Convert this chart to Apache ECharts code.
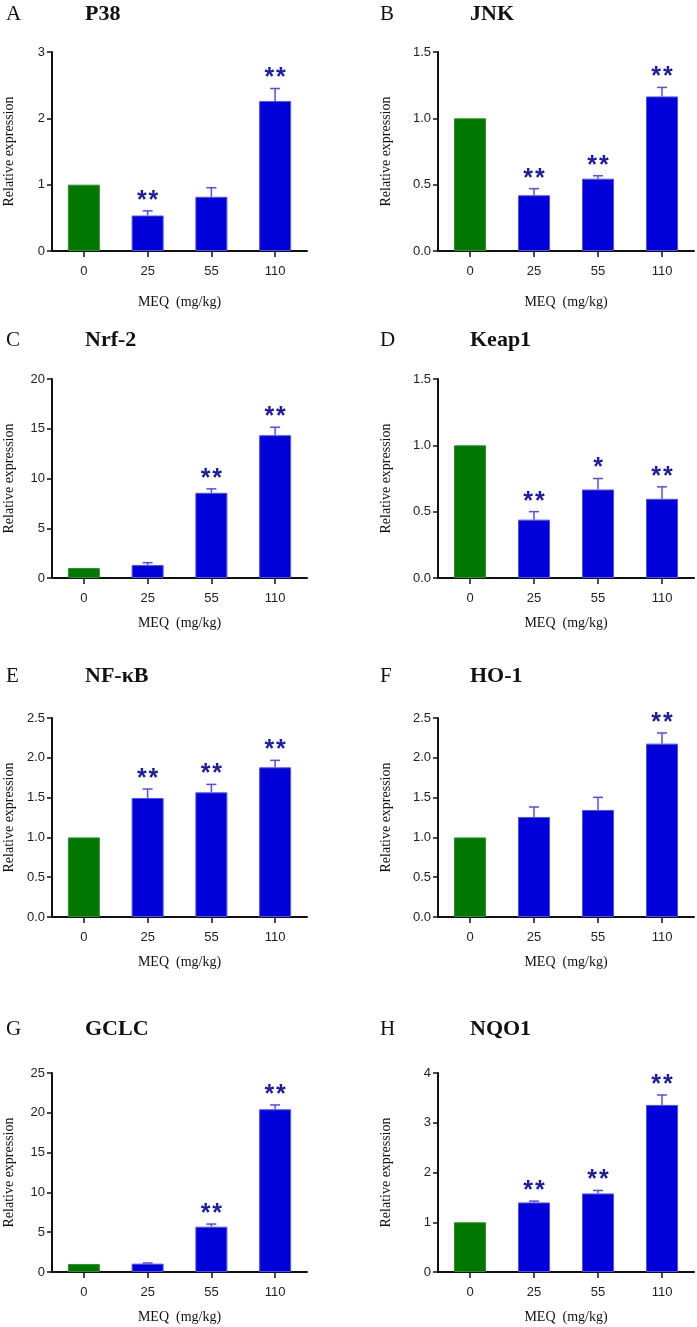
<!DOCTYPE html>
<html>
<head>
<meta charset="utf-8">
<script src="https://cdn.jsdelivr.net/npm/echarts@6/dist/echarts.min.js"></script>
<style>
html,body{margin:0;padding:0;background:#fff;}
#chart{width:697px;height:1327px;}
</style>
</head>
<body>
<div id="chart"></div>
<script>
// ---------- data ----------
const categories = ['0', '25', '55', '110'];
const panelLetters = ['A', 'B', 'C', 'D', 'E', 'F', 'G', 'H'];
const panelNames = ['P38', 'JNK', 'Nrf-2', 'Keap1', 'NF-κB', 'HO-1', 'GCLC', 'NQO1'];
const yMaxes = [3, 1.5, 20, 1.5, 2.5, 2.5, 25, 4];
const ySteps = [1, 0.5, 5, 0.5, 0.5, 0.5, 5, 1];
const yAxisTitle = 'Relative expression';
const xAxisTitle = 'MEQ  (mg/kg)';

const p38Mean = [1.0, 0.535, 0.817, 2.26];
const p38Err = [0, 0.07, 0.136, 0.19];
const p38Sig = ['', '**', '', '**'];

const jnkMean = [1.0, 0.42, 0.545, 1.165];
const jnkErr = [0, 0.05, 0.022, 0.068];
const jnkSig = ['', '**', '**', '**'];

const nrf2Mean = [1.0, 1.3, 8.56, 14.35];
const nrf2Err = [0, 0.24, 0.40, 0.80];
const nrf2Sig = ['', '', '**', '**'];

const keap1Mean = [1.0, 0.44, 0.667, 0.597];
const keap1Err = [0, 0.06, 0.083, 0.09];
const keap1Sig = ['', '**', '*', '**'];

const nfkbMean = [1.0, 1.495, 1.566, 1.88];
const nfkbErr = [0, 0.113, 0.10, 0.088];
const nfkbSig = ['', '**', '**', '**'];

const ho1Mean = [1.0, 1.256, 1.344, 2.178];
const ho1Err = [0, 0.126, 0.159, 0.134];
const ho1Sig = ['', '', '', '**'];

const gclcMean = [1.0, 1.05, 5.69, 20.44];
const gclcErr = [0, 0.08, 0.33, 0.55];
const gclcSig = ['', '', '**', '**'];

const nqo1Mean = [1.0, 1.398, 1.579, 3.358];
const nqo1Err = [0, 0.027, 0.06, 0.20];
const nqo1Sig = ['', '**', '**', '**'];

const means = [p38Mean, jnkMean, nrf2Mean, keap1Mean, nfkbMean, ho1Mean, gclcMean, nqo1Mean];
const errs = [p38Err, jnkErr, nrf2Err, keap1Err, nfkbErr, ho1Err, gclcErr, nqo1Err];
const sigs = [p38Sig, jnkSig, nrf2Sig, keap1Sig, nfkbSig, ho1Sig, gclcSig, nqo1Sig];

// ---------- layout ----------
const colLeft = [52, 438];
const colWidth = [255, 256];
const rowTop = [52, 379, 718, 1073];
const gridH = 199;
const titleY = [14, 340, 676.5, 1029.5];
const letterX = [6, 380];
const nameX = [85, 470];
const xNameGap = [44, 38, 38, 38];
const yNameGap = [36, 45];

const GREEN = '#007800';
const BLUE = '#0000d8';
const BLUE_EDGE = '#4f4fff';
const STAR = '#1c1ca6';
const SERIF = '"Liberation Serif", "Times New Roman", serif';
const SANS = '"Liberation Sans", Arial, sans-serif';

const chart = echarts.init(document.getElementById('chart'), null, {renderer: 'canvas'});

const grids = [], xAxes = [], yAxes = [], series = [], graphics = [];

for (let p = 0; p < 8; p++) {
  const col = p % 2, row = Math.floor(p / 2);
  grids.push({left: colLeft[col], top: rowTop[row], width: colWidth[col], height: gridH,
    containLabel: false, outerBoundsMode: 'none'});
  xAxes.push({
    type: 'category', gridIndex: p, data: categories,
    boundaryGap: true,
    axisLine: {show: true, lineStyle: {color: '#111', width: 2}},
    axisTick: {show: true, alignWithLabel: true, length: 6, lineStyle: {color: '#111', width: 1.5}},
    axisLabel: {color: '#222', fontFamily: SANS, fontSize: 13, margin: 14},
    name: xAxisTitle, nameLocation: 'middle', nameGap: xNameGap[row],
    nameTextStyle: {color: '#111', fontFamily: SERIF, fontSize: 14}
  });
  const step = ySteps[p];
  yAxes.push({
    type: 'value', gridIndex: p, min: 0, max: yMaxes[p], interval: step,
    axisLine: {show: true, lineStyle: {color: '#111', width: 2}},
    axisTick: {show: true, length: 5, lineStyle: {color: '#111', width: 1.5}},
    splitLine: {show: false},
    axisLabel: {color: '#222', fontFamily: SANS, fontSize: 13, margin: 7,
      formatter: v => step < 1 ? v.toFixed(1) : String(v)},
    name: yAxisTitle, nameLocation: 'middle', nameGap: yNameGap[col], nameRotate: 90,
    nameTextStyle: {color: '#111', fontFamily: SERIF, fontSize: 14}
  });
  series.push({
    type: 'bar', xAxisIndex: p, yAxisIndex: p, barWidth: 32, z: 2,
    data: means[p].map((v, i) => ({
      value: v,
      itemStyle: i === 0
        ? {color: GREEN, borderColor: '#2f8f2f', borderWidth: 1}
        : {color: BLUE, borderColor: BLUE_EDGE, borderWidth: 1}
    }))
  });
  const sig = sigs[p];
  series.push({
    type: 'custom', xAxisIndex: p, yAxisIndex: p, z: 5, silent: true,
    data: means[p].map((v, i) => [i, v, errs[p][i]]),
    renderItem: function (params, api) {
      const idx = api.value(0), m = api.value(1), e = api.value(2);
      const base = api.coord([idx, m]);
      const top = api.coord([idx, m + e]);
      const children = [];
      if (e > 0) {
        children.push({type: 'line', shape: {x1: base[0], y1: base[1], x2: top[0], y2: top[1]},
          style: {stroke: BLUE_EDGE, lineWidth: 1.5}});
        children.push({type: 'line', shape: {x1: top[0] - 5, y1: top[1], x2: top[0] + 5, y2: top[1]},
          style: {stroke: BLUE_EDGE, lineWidth: 1.5}});
      }
      const s = sig[params.dataIndex];
      const n = s.length;
      for (let k = 0; k < n; k++) {
        children.push({type: 'text', x: top[0] + (k - (n - 1) / 2) * 11.7, y: top[1] - 10,
          style: {text: '*', fill: STAR, font: 'bold 25px ' + SANS, align: 'center', verticalAlign: 'middle'}});
      }
      return {type: 'group', children: children};
    }
  });
  graphics.push({type: 'text', x: letterX[col], y: titleY[row],
    style: {text: panelLetters[p], fill: '#111', font: '21px ' + SERIF, verticalAlign: 'middle'}});
  graphics.push({type: 'text', x: nameX[col], y: titleY[row],
    style: {text: panelNames[p], fill: '#111', font: 'bold 22px ' + SERIF, verticalAlign: 'middle'}});
}

chart.setOption({
  backgroundColor: '#fff',
  animation: false,
  grid: grids, xAxis: xAxes, yAxis: yAxes, series: series,
  graphic: graphics
});
</script>
</body>
</html>
